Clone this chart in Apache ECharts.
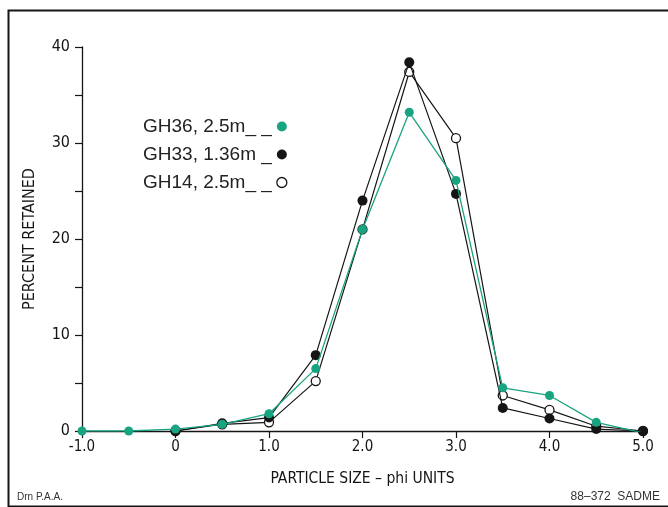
<!DOCTYPE html>
<html>
<head>
<meta charset="utf-8">
<script src="https://cdn.jsdelivr.net/npm/echarts@6/dist/echarts.min.js"></script>
<style>html,body{margin:0;padding:0;background:#fff}#c{width:668px;height:507px}</style>
</head>
<body>
<div id="c"></div>
<script>
var phi36 = [-1.0, -0.5, 0, 0.5, 1.0, 1.5, 2.0, 2.5, 3.0, 3.5, 4.0, 4.5, 5.0];
var gh36 = [0, 0, 0.2, 0.7, 1.8, 6.5, 21.0, 33.2, 26.1, 4.5, 3.7, 0.9, -0.2];
var phi = [0, 0.5, 1.0, 1.5, 2.0, 2.5, 3.0, 3.5, 4.0, 4.5, 5.0];
var gh33 = [0, 0.8, 1.4, 7.9, 24.0, 38.4, 24.7, 2.4, 1.3, 0.2, 0];
var gh14 = [0, 0.7, 0.9, 5.2, 21.0, 37.4, 30.5, 3.7, 2.2, 0.5, 0];
var names = ['GH36, 2.5m', 'GH33, 1.36m', 'GH14, 2.5m'];
var suffix = ['_ _', ' _', '_ _'];
var xTicks = {min: -1, max: 5, interval: 1};
var yTicks = {min: 0, max: 40, interval: 10};

function pairs(xs, ys){ return xs.map(function(x,i){ return [x, ys[i]]; }); }
var green = '#18a481';
var ink = '#151515';
var cond = "'Liberation Sans Narrow','DejaVu Sans Condensed',sans-serif";

var chart = echarts.init(document.getElementById('c'));
chart.setOption({
  animation: false,
  backgroundColor: '#fff',
  grid: {left: 82, right: 25, top: 47, bottom: 76},
  legend: {
    orient: 'vertical', left: 138, top: 112, itemGap: 9, align: 'right',
    itemWidth: 10, itemHeight: 10,
    textStyle: {fontSize: 19, color: '#222', fontFamily: "'Liberation Sans',Arial,sans-serif"},
    formatter: function(n){ var i = names.indexOf(n); return n + suffix[i]; },
    data: [
      {name: names[0], icon: 'circle', itemStyle: {color: green}},
      {name: names[1], icon: 'circle', itemStyle: {color: ink}},
      {name: names[2], icon: 'circle', itemStyle: {color: '#fff', borderColor: ink, borderWidth: 1.3}}
    ]
  },
  xAxis: {
    type: 'value', min: xTicks.min, max: xTicks.max, interval: xTicks.interval,
    name: 'PARTICLE SIZE \u2013 phi UNITS', nameLocation: 'middle', nameGap: 40,
    nameTextStyle: {fontSize: 15.5, color: ink, fontFamily: cond},
    axisLine: {show: true, onZero: false, lineStyle: {color: ink, width: 1.3}},
    axisTick: {show: true, inside: false, length: 7, lineStyle: {color: ink, width: 1.2}},
    axisLabel: {fontSize: 15, color: ink, fontFamily: cond, margin: 9,
      formatter: function(v){ return v === 0 ? '0' : v.toFixed(1); }},
    splitLine: {show: false}
  },
  yAxis: {
    type: 'value', min: yTicks.min, max: yTicks.max, interval: yTicks.interval,
    name: 'PERCENT RETAINED', nameLocation: 'middle', nameGap: 44,
    nameTextStyle: {fontSize: 16, color: ink, fontFamily: cond},
    axisLine: {show: true, onZero: false, lineStyle: {color: ink, width: 1.3}},
    axisTick: {show: true, length: 7, lineStyle: {color: ink, width: 1.2}},
    minorTick: {show: true, splitNumber: 2, length: 7, lineStyle: {color: ink, width: 1.2}},
    axisLabel: {fontSize: 16, color: ink, fontFamily: cond, margin: 12},
    splitLine: {show: false}
  },
  series: [
    {name: names[2], type: 'line', data: pairs(phi, gh14), symbol: 'circle', symbolSize: 9,
      lineStyle: {color: ink, width: 1.2}, itemStyle: {color: '#fff', borderColor: ink, borderWidth: 1.3}, z: 2},
    {name: names[1], type: 'line', data: pairs(phi, gh33), symbol: 'circle', symbolSize: 10,
      lineStyle: {color: ink, width: 1.2}, itemStyle: {color: ink}, z: 3},
    {name: names[0], type: 'line', data: pairs(phi36, gh36), symbol: 'circle', symbolSize: 9,
      lineStyle: {color: green, width: 1.3}, itemStyle: {color: green}, z: 4}
  ],
  graphic: [
    {type: 'rect', left: 6, top: 8, shape: {width: 700, height: 496},
      style: {fill: 'none', stroke: ink, lineWidth: 2}, silent: true},
    {type: 'text', left: 17, top: 492, style: {text: 'Drn P.A.A.', fontSize: 10, fill: '#333', fontFamily: "'Liberation Sans',Arial,sans-serif"}},
    {type: 'text', right: 8, top: 491, style: {text: '88\u2013372  SADME', fontSize: 12, fill: '#333', fontFamily: "'Liberation Sans',Arial,sans-serif"}}
  ]
});
</script>
</body>
</html>
